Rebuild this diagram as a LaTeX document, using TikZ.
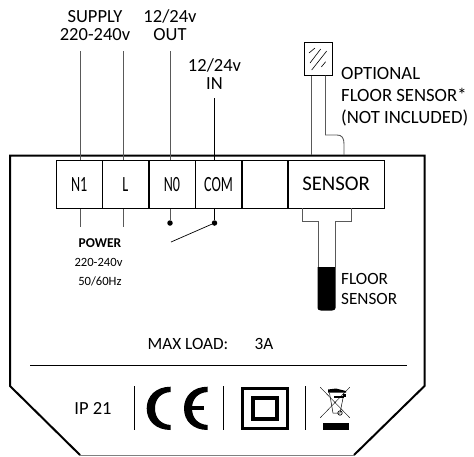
\documentclass[tikz,border=0pt]{standalone}
\usepackage{fontspec}
\setmainfont{Carlito}
\usetikzlibrary{positioning,calc}
\tikzset{
	lbl/.style={align=center,inner sep=0pt,font=\fontsize{18.5}{18}\selectfont},
	small/.style={inner sep=0pt,font=\fontsize{12.6}{19}\selectfont},
	terminal/.style={draw,thick,minimum height=48.5pt,inner sep=0pt,anchor=north west},
	condensed/.style={xscale=.65,font=\fontsize{21.7}{24}\selectfont},
	wire/.style={draw=black!65,line width=.9pt},
	dot/.style={circle,fill=black,inner sep=0pt,minimum size=5.5pt}
}
\begin{document}
\begin{tikzpicture}[x=1pt,y=-1pt]
\useasboundingbox (0,0) rectangle (474,456);
% casing
\draw[line width=2pt] (80,455) -- (10,386) -- (10,155.5) -- (424.5,155.5) -- (424.5,386) -- (354,455);
\draw[black!50,line width=1pt] (80,455) -- (354,455);
% terminal strip
\node[terminal,minimum width=45.5pt] (n1) at (56,159.5) {};
\node[terminal,minimum width=45.5pt] (l) at (n1.north east) {};
\node[terminal,minimum width=46pt] (no) at (l.north east) {};
\node[terminal,minimum width=45.5pt] (com) at (no.north east) {};
\node[terminal,minimum width=45pt] (blank) at (com.north east) {};
\node[terminal,minimum width=96.5pt] (sensor) at (blank.north east) {};
\node[draw=none,condensed] at (n1.center) {N1};
\node[draw=none,condensed] at (l.center) {L};
\node[draw=none,condensed] at (no.center) {N0};
\node[draw=none,condensed] at (com.center) {COM};
\node[lbl,font=\fontsize{20.8}{24}\selectfont] at (sensor.center) {SENSOR};
% supply side
\node[lbl] (supply) at (95,25.5) {SUPPLY\\220-240v};
\node[lbl] (out) at (170,25.5) {12/24v\\OUT};
\node[lbl] (in) at (214.5,74) {12/24v\\IN};
\coordinate (n1w) at (80,51);
\coordinate (lw) at (123,51);
\coordinate (now) at (170,51);
\coordinate (comw) at (214.5,98);
\draw[wire] (n1w) -- (n1w |- n1.north) (lw) -- (lw |- l.north) (now) -- (now |- no.north);
\draw[line width=.9pt] (comw) -- (comw |- com.north);
\draw[wire] (n1w |- n1.south) -- ++(0,18) (lw |- l.south) -- ++(0,18);
% relay
\node[dot] (nodot) at (170,223) {};
\node[dot] (comdot) at (214.5,223) {};
\draw[wire] (now |- no.south) -- (nodot);
\draw[line width=.9pt] (comw |- com.south) -- (comdot);
\coordinate (swend) at (171,242);
\draw[line width=.7pt] (comdot) -- (swend);
\node[small,font=\fontsize{13.5}{19}\selectfont\bfseries] (power) at (100,243.5) {POWER};
\node[small,align=center,anchor=north] (hz) at (98.5,258) {220-240v\\\ 50/60Hz};
% optional sensor
\node[draw,line width=.8pt,minimum width=28pt,minimum height=33pt,inner sep=0pt] (opt) at (318,59) {};
\draw[line width=.6pt] (309,53) -- (315,48) (310,63) -- (320.7,49) (311.7,70) -- (326.7,51) (321.3,67) -- (325.7,61.7);
\node[lbl,align=left,anchor=north west,font=\fontsize{18.7}{22}\selectfont] (optlbl) at (341,67.5) {OPTIONAL\\FLOOR SENSOR*\\(NOT INCLUDED)};
\coordinate (wa) at (311.5,155);
\coordinate (wb) at (325.5,75.5);
\coordinate (wc) at (344,155);
\draw[wire] (opt.south -| wa) -- (wa);
\draw[wire] (wb) -- (325.5,135) -- (337,135) .. controls (342,135) and (344,138) .. (344,144) -- (wc);
% floor sensor
\coordinate (pl) at (302.5,208);
\coordinate (pr) at (351,208);
\draw[wire] (pl) -- (302.5,221) -- (318,221) -- (318,267);
\draw[wire] (pr) -- (351,221) -- (335,221) -- (335,267);
\fill (317.5,267) -- (335.5,267) -- (335.5,308) .. controls (335.5,309.5) and (334,310.5) .. (332,310.5) -- (321,310.5) .. controls (319,310.5) and (317.5,309.5) .. (317.5,308) -- cycle;
\node[lbl,align=left,anchor=west,font=\fontsize{17.2}{20}\selectfont] (floor) at (341,289) {FLOOR\\SENSOR};
% ratings
\node[lbl,font=\fontsize{17.2}{20}\selectfont] (load) at (188,344) {MAX LOAD:};
\node[lbl,font=\fontsize{17.2}{20}\selectfont] (amps) at (264,344) {3A};
\draw[line width=1pt] (30,365.5) -- (406.5,365.5);
\node[lbl] (ip) at (93,408) {IP 21};
\foreach \x in {134.5,223.5,305} {\draw[line width=1pt] (\x,386) -- (\x,430);}
% ce mark
\fill (170.7,386.7) .. controls (156,386.7) and (146.7,396) .. (146.7,408.4) .. controls (146.7,421) and (156,430) .. (170.7,430)
	-- (170.7,425) .. controls (161,424.5) and (155,418) .. (155,408.4) .. controls (155,399) and (161,392.5) .. (170.7,392) -- cycle;
\fill (207.7,386.7) .. controls (193,386.7) and (184,396) .. (184,408.4) .. controls (184,421) and (193,430) .. (207.7,430)
	-- (207.7,425) .. controls (198,424.5) and (192,418) .. (192,408.4) .. controls (192,399) and (198,392.5) .. (207.7,392) -- cycle;
\fill (190,405.8) rectangle (204,410.4);
% double insulation
\node[draw,line width=3pt,minimum width=44.7pt,minimum height=40.3pt,inner sep=0pt] (outerbox) at (265.2,408.4) {};
\node[draw,line width=4pt,minimum width=23.7pt,minimum height=21pt,inner sep=0pt] (innerbox) at (265.2,408.4) {};
% bin
\draw[line width=.4pt] (320.3,387.3) -- (349.7,417.7) (349.7,387.3) -- (320.3,417.7);
\draw[line width=.5pt] (329.5,393) -- (333,413) -- (340,413) -- (344,393);
\fill (328,389.5) -- (336,388.5) -- (346,391) -- (346,392.5) -- (328,392.5) -- cycle;
\fill (343,393.5) rectangle (346,397);
\fill (334,396) rectangle (344,397.5);
\draw[line width=.7pt] (340,413) circle[radius=2.2];
\fill (323,423) rectangle (349,430);
\end{tikzpicture}
\end{document}
